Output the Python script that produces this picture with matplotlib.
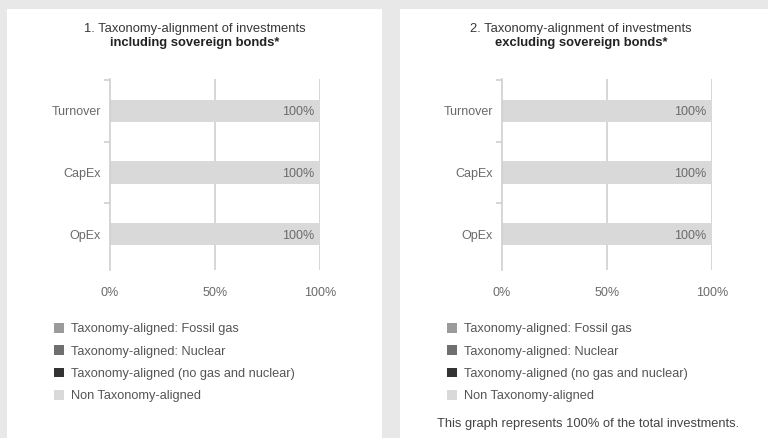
import matplotlib
matplotlib.use("Agg")
import matplotlib.pyplot as plt
from matplotlib.patches import Patch, Rectangle

plt.rcParams["font.family"] = ["Liberation Sans", "DejaVu Sans"]

# Data
categories = ["Turnover", "CapEx", "OpEx"]
series_names = [
    "Taxonomy-aligned: Fossil gas",
    "Taxonomy-aligned: Nuclear",
    "Taxonomy-aligned (no gas and nuclear)",
    "Non Taxonomy-aligned",
]
series_colors = ["#9b9b9b", "#6f6f6f", "#333333", "#d9d9d9"]

incl_fossil_gas = [0, 0, 0]
incl_nuclear = [0, 0, 0]
incl_aligned = [0, 0, 0]
incl_non_aligned = [100, 100, 100]

excl_fossil_gas = [0, 0, 0]
excl_nuclear = [0, 0, 0]
excl_aligned = [0, 0, 0]
excl_non_aligned = [100, 100, 100]

x_ticks = [0, 50, 100]
x_tick_labels = ["0%", "50%", "100%"]

titles = [
    ("1. Taxonomy-alignment of investments", "including sovereign bonds*"),
    ("2. Taxonomy-alignment of investments", "excluding sovereign bonds*"),
]
footnote = "This graph represents 100% of the total investments."

W, H = 768, 438
fig = plt.figure(figsize=(W / 100, H / 100), dpi=100)
fig.patch.set_facecolor("#e8e8e8")


def fx(px):
    return px / W


def fy(py):
    return 1 - py / H


# white panels behind everything
for x0, x1 in [(7, 382), (400, 768)]:
    fig.patches.append(Rectangle((fx(x0), 0), fx(x1 - x0), fy(9), transform=fig.transFigure,
                                 facecolor="white", edgecolor="none", zorder=-10))

grid_col = "#cfcfcf"
text_col = "#6a6a6a"


def draw_panel(x_left, x_right, title, data, title_cx):
    ax = fig.add_axes([fx(x_left), fy(270), fx(x_right - x_left), (270 - 79) / H])
    ax.set_facecolor("none")
    ypos = list(range(len(categories)))
    left = [0] * len(categories)
    for vals, col in zip(data, series_colors):
        bars = ax.barh(ypos, vals, left=left, height=0.36, color=col, zorder=2)
        for b, v, l in zip(bars, vals, left):
            if v > 0:
                ax.text(l + v - 2.5, b.get_y() + b.get_height() / 2, f"{v}%",
                        ha="right", va="center_baseline", fontsize=9, color=text_col, zorder=3)
        left = [a + b for a, b in zip(left, vals)]

    ax.set_xlim(0, 100)
    ax.set_ylim(2.585, -0.52)
    for s in ["top", "right", "bottom"]:
        ax.spines[s].set_visible(False)
    ax.spines["left"].set_color(grid_col)
    ax.spines["left"].set_linewidth(1.2)
    for xv in x_ticks[1:]:
        ax.axvline(xv, color=grid_col, lw=1.2, zorder=1)

    ax.set_xticks(x_ticks)
    ax.set_xticklabels(x_tick_labels)
    ax.tick_params(axis="x", length=0, pad=12, labelsize=9, labelcolor=text_col)
    ax.set_yticks(ypos)
    ax.set_yticklabels(categories)
    ax.tick_params(axis="y", which="major", length=0, pad=6.5, labelsize=9, labelcolor=text_col)
    ax.set_yticks([-0.5, 0.5, 1.5], minor=True)
    ax.tick_params(axis="y", which="minor", length=4.5, width=1.2, color=grid_col)

    fig.text(fx(title_cx), fy(29), title[0], ha="center", va="center",
             fontsize=9.4, color="#383838")
    fig.text(fx(title_cx), fy(43), title[1], ha="center", va="center",
             fontsize=9.4, color="#222222", fontweight="bold")
    return ax


draw_panel(110, 320, titles[0],
           [incl_fossil_gas, incl_nuclear, incl_aligned, incl_non_aligned], 195)
draw_panel(502, 712, titles[1],
           [excl_fossil_gas, excl_nuclear, excl_aligned, excl_non_aligned], 581)

handles = [Patch(facecolor=c, edgecolor="none") for c in series_colors]
for lx in [54, 447]:
    fig.legend(handles, series_names, loc="upper left", bbox_to_anchor=(fx(lx), fy(323)),
               frameon=False, fontsize=9.2, labelcolor="#555555",
               handlelength=0.8, handleheight=0.8, handletextpad=0.55,
               labelspacing=0.78, borderaxespad=0, borderpad=0)

fig.text(fx(437), fy(424), footnote, ha="left", va="center", fontsize=9.3, color="#444444")

fig.savefig("out.png", dpi=100, facecolor=fig.get_facecolor())
